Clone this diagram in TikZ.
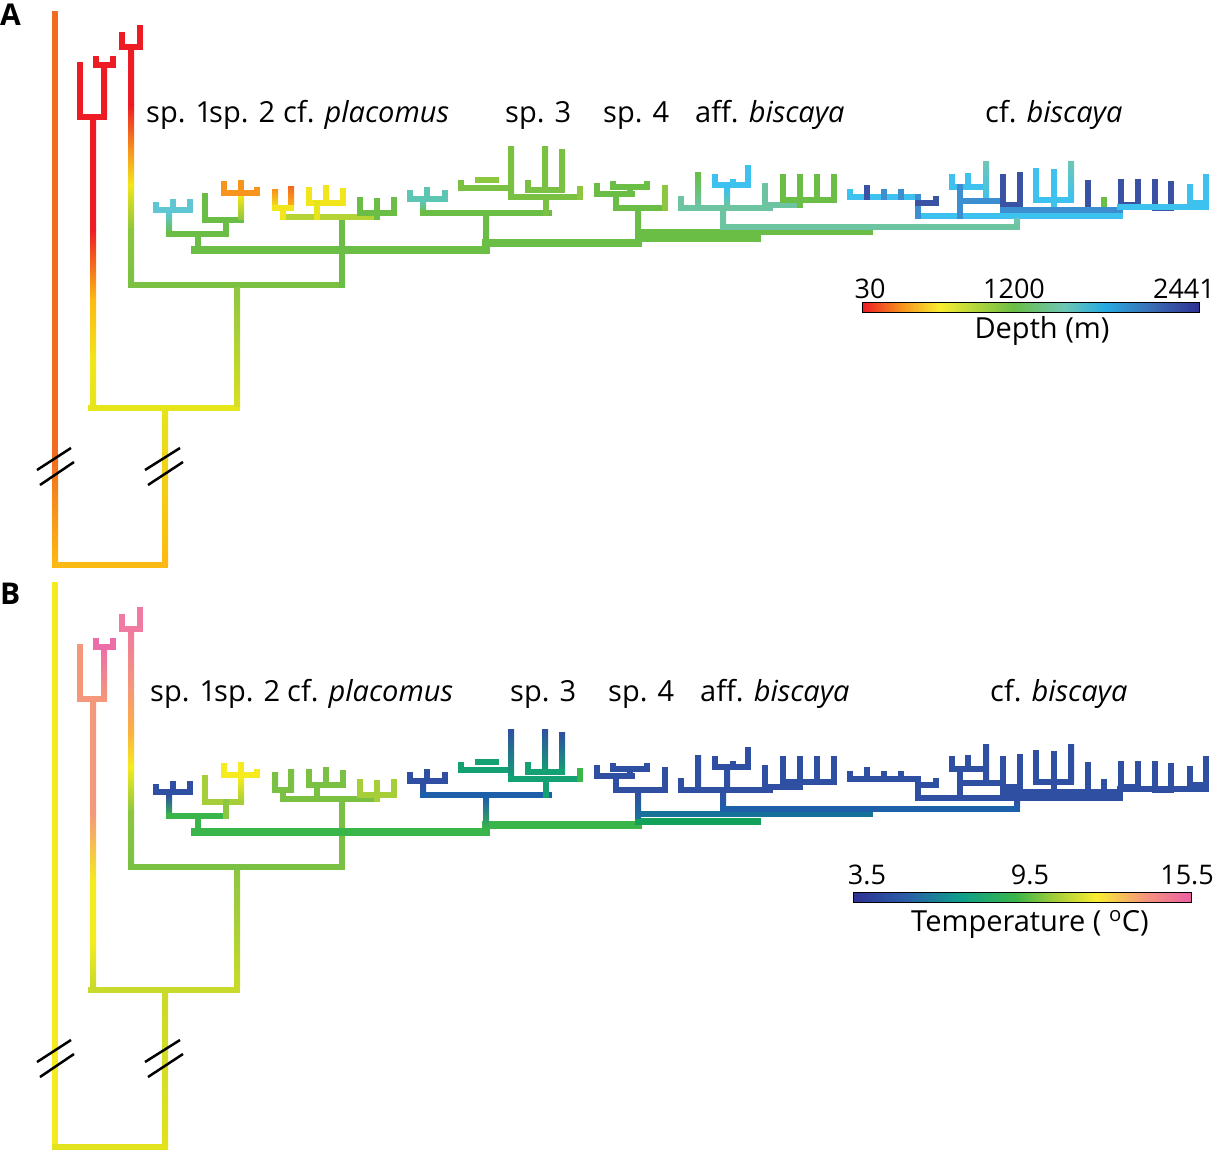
\documentclass[tikz,border=0pt]{standalone}
\usepackage{fontspec}
\setmainfont{Open Sans}
\definecolor{Ared}{HTML}{ED1C24}
\definecolor{Aor}{HTML}{F26B21}
\definecolor{Aorg}{HTML}{F7941D}
\definecolor{Ayo}{HTML}{FDB913}
\definecolor{Ayel}{HTML}{F2E51B}
\definecolor{Ayel2}{HTML}{E6E51A}
\definecolor{Ayg}{HTML}{D7DF23}
\definecolor{Ayg2}{HTML}{B5D334}
\definecolor{Alg}{HTML}{8DC63F}
\definecolor{Agr}{HTML}{6ABD45}
\definecolor{Agr2}{HTML}{7AC143}
\definecolor{Ateal}{HTML}{6CC4A0}
\definecolor{Ateal2}{HTML}{5DC5B3}
\definecolor{Ateal3}{HTML}{6DC6B5}
\definecolor{Acyan}{HTML}{5FC6D3}
\definecolor{Asky}{HTML}{3DC1EE}
\definecolor{Ablue}{HTML}{3B8FD0}
\definecolor{Adb}{HTML}{3A52A3}
\definecolor{Byel}{HTML}{F5EB1F}
\definecolor{Byel2}{HTML}{E2E21D}
\definecolor{Bsal}{HTML}{F4977A}
\definecolor{Bpink}{HTML}{EC6EA8}
\definecolor{Bpink2}{HTML}{F07AA0}
\definecolor{Borg}{HTML}{FBB040}
\definecolor{Bdb}{HTML}{2F4FA2}
\definecolor{Bblue}{HTML}{1E5FAA}
\definecolor{Btb}{HTML}{17729A}
\definecolor{Bteal}{HTML}{12A15A}
\definecolor{Bteal2}{HTML}{13A073}
\definecolor{Bgr}{HTML}{3AB54A}
\definecolor{Blg}{HTML}{7AC143}
\definecolor{Byg}{HTML}{A6CE39}
\definecolor{Bygl}{HTML}{C8DA2B}
\definecolor{Cdb}{HTML}{2E3192}
\definecolor{Cbl}{HTML}{3B6CB4}
\definecolor{Cyl}{HTML}{F9ED32}
\definecolor{Ccy}{HTML}{27AAE1}
\definecolor{Cbl2}{HTML}{2B5BA8}
\definecolor{Ctl}{HTML}{0E9F8A}
\definecolor{Cpk}{HTML}{EC5FA2}
\pgfdeclarehorizontalshading{depthbar}{100bp}{color(0bp)=(Ared); color(25bp)=(Ared); color(31bp)=(Aorg); color(36.5bp)=(Cyl); color(47.5bp)=(Agr); color(55bp)=(Ateal3); color(61bp)=(Ccy); color(68bp)=(Cbl); color(75bp)=(Cdb); color(100bp)=(Cdb)}
\pgfdeclarehorizontalshading{tempbar}{100bp}{color(0bp)=(Cdb); color(25bp)=(Cdb); color(32.5bp)=(Cbl2); color(41bp)=(Ctl); color(49bp)=(Bgr); color(55bp)=(Byg); color(61bp)=(Cyl); color(68bp)=(Bsal); color(75bp)=(Cpk); color(100bp)=(Cpk)}
\newif\ifB
\newcommand\br[4][]{\ifB\def\cc{#4}\else\def\cc{#3}\fi\draw[br,color=\cc,#1]#2;}
\newcommand\vg[7]{\ifB\def\ct{#6}\def\cb{#7}\else\def\ct{#4}\def\cb{#5}\fi\shade[top color=\ct,bottom color=\cb] (#1-3,#2) rectangle (#1+3,#3);}
\newcommand\PhyloTree{%
 % root part
 \br{(55,565)--(165,565)}{Ayo}{Byel2}
 \vg{165}{408}{565}{Ayel2}{Ayo}{Bygl}{Byel2}
 \br{(91,408)--(237,408)}{Ayel2}{Bygl}
 \vg{93}{117}{230}{Ared}{Ared}{Bsal}{Bsal}
 \vg{93}{230}{300}{Ared}{Ayo}{Bsal}{Byel}
 \vg{93}{300}{360}{Ayo}{Ayel}{Byel}{Byel}
 \vg{93}{360}{406}{Ayel}{Ayel2}{Byel}{Bygl}
 \br{(80,65)--(80,117)--(104,117)}{Ared}{Bsal}
 \vg{104}{65}{117}{Ared}{Ared}{Bpink}{Bsal}
 \br{(96,59)--(96,65)--(113,65)--(113,59)}{Ared}{Bpink}
 \br{(122,35)--(122,47)--(140,47)--(140,28)}{Ared}{Bpink2}
 \vg{131}{47}{105}{Ared}{Ared}{Bpink2}{Bsal}
 \vg{131}{105}{150}{Ared}{Aorg}{Bsal}{Borg}
 \vg{131}{150}{185}{Aorg}{Ayel}{Borg}{Byel}
 \vg{131}{185}{230}{Ayel}{Alg}{Byel}{Alg}
 \vg{131}{230}{283}{Alg}{Agr2}{Alg}{Blg}
 \br{(131,285)--(342,285)}{Agr2}{Blg}
 \vg{237}{288}{406}{Alg}{Ayg}{Alg}{Bygl}
 \br{(342,217)--(342,285)}{Agr}{Blg}
 % backbone
 \br[line width=8pt]{(195,250)--(486,250)}{Agr}{Bgr}
 \br[line width=8pt]{(486,243)--(638,243)}{Agr}{Bgr}
 \br{(638,232)--(870,232)--(870,227)}{Agr}{Btb}
 \br[line width=7pt]{(638,239)--(757,239)}{Agr}{Bteal}
 \br{(723,227)--(1017,227)}{Ateal}{Bblue}
 % sp. 1
 \br{(156,205)--(156,210)--(190,210)--(190,202)}{Acyan}{Bdb}
 \br{(173,202)--(173,210)}{Acyan}{Bdb}
 \vg{169}{213}{234}{Acyan}{Agr}{Bdb}{Bgr}
 \br{(169,234)--(226,234)}{Agr}{Bgr}
 \br{(198,234)--(198,250)}{Agr}{Bgr}
 % sp. 2
 \br{(205,196)--(205,220)--(241,220)}{Agr}{Byg}
 \br{(226,220)--(226,234)}{Agr}{Alg}
 \vg{241}{196}{220}{Ayel}{Alg}{Byel}{Byg}
 \br{(224,184)--(224,193)--(257,193)--(257,190)}{Aorg}{Byel}
 \br{(241,183)--(241,193)}{Aorg}{Byel}
 % cf. placomus
 \br{(283,217)--(377,217)}{Ayg2}{Blg}
 \br{(283,208)--(283,217)}{Ayel}{Blg}
 \vg{275}{190}{208}{Aorg}{Ayel}{Blg}{Blg}
 \vg{291}{187}{208}{Aor}{Ayo}{Blg}{Blg}
 \br{(275,208)--(291,208)}{Ayel}{Blg}
 \br{(309,190)--(309,203)--(343,203)--(343,191)}{Ayel}{Blg}
 \br{(326,188)--(326,203)}{Ayel}{Blg}
 \br{(317,203)--(317,217)}{Ayel2}{Blg}
 \br{(360,200)--(360,213)--(394,213)--(394,200)}{Agr}{Byg}
 \br{(377,201)--(377,217)}{Agr}{Byg}
 % teal subtree
 \br{(410,193)--(410,199)--(445,199)--(445,193)}{Ateal2}{Bdb}
 \br{(427,190)--(427,199)}{Ateal2}{Bdb}
 \vg{423}{202}{213}{Ateal2}{Agr}{Bdb}{Bblue}
 \br{(423,213)--(549,213)}{Agr}{Bblue}
 \vg{486}{216}{247}{Agr}{Agr}{Bblue}{Bgr}
 % sp. 3
 \br{(461,183)--(461,188)--(511,188)}{Agr2}{Bteal2}
 \br{(478,180)--(496,180)}{Alg}{Bteal2}
 \vg{511}{147}{197}{Agr2}{Agr2}{Bdb}{Bteal2}
 \vg{545}{147}{190}{Agr2}{Agr2}{Bdb}{Bteal2}
 \vg{562}{150}{190}{Agr2}{Agr2}{Bdb}{Bteal2}
 \br{(528,183)--(528,190)--(562,190)}{Agr2}{Bteal2}
 \br{(511,197)--(580,197)}{Agr2}{Bteal2}
 \br{(580,189)--(580,197)}{Alg}{Bgr}
 \br{(546,197)--(546,213)}{Agr2}{Bteal2}
 % sp. 4
 \br{(616,208)--(665,208)}{Agr}{Bdb}
 \br{(665,188)--(665,208)}{Alg}{Bdb}
 \br{(616,208)--(616,194)}{Agr}{Bdb}
 \br{(597,186)--(597,194)--(632,194)}{Agr}{Bdb}
 \br{(630,194)--(630,187)}{Agr}{Bdb}
 \br{(613,184)--(613,187)--(647,187)--(647,184)}{Agr}{Bdb}
 \vg{638}{211}{236}{Agr}{Agr}{Bdb}{Btb}
 % aff. biscaya
 \br{(681,208)--(770,208)}{Ateal}{Bdb}
 \br{(681,199)--(681,208)}{Ateal}{Bdb}
 \vg{698}{173}{205}{Agr}{Ateal}{Bdb}{Bdb}
 \br{(715,177)--(715,185)--(748,185)--(748,168)}{Asky}{Bdb}
 \br{(733,182)--(733,185)}{Asky}{Bdb}
 \vg{727}{188}{206}{Asky}{Ateal}{Bdb}{Bdb}
 \vg{723}{211}{225}{Ateal}{Ateal}{Bdb}{Bblue}
 \br{(765,186)--(765,205)--(800,205)}{Ateal}{Bdb}
 \br{(770,205)--(770,208)}{Ateal}{Bdb}
 \br{(783,177)--(783,200)--(834,200)--(834,177)}{Agr}{Bdb}
 \br{(800,177)--(800,205)}{Agr}{Bdb}
 \br{(817,177)--(817,200)}{Agr}{Bdb}
 % cf. biscaya
 \br{(918,216)--(1120,216)}{Asky}{Bdb}
 \vg{1017}{219}{225}{Ateal3}{Ateal}{Bdb}{Bblue}
 \br{(850,192)--(850,197)--(918,197)}{Asky}{Bdb}
 \br{(867,188)--(867,197)}{Adb}{Bdb}
 \br{(884,192)--(884,197)}{Ablue}{Bdb}
 \br{(901,192)--(901,197)}{Ablue}{Bdb}
 \br{(918,197)--(918,216)}{Ablue}{Bdb}
 \br{(918,203)--(936,203)--(936,199)}{Adb}{Bdb}
 \br{(952,177)--(952,187)--(985,187)}{Asky}{Bdb}
 \br{(968,176)--(968,187)}{Asky}{Bdb}
 \vg{986}{162}{201}{Ateal3}{Asky}{Bdb}{Bdb}
 \br{(960,187)--(960,201)--(1003,201)}{Ablue}{Bdb}
 \br{(960,201)--(960,216)}{Ablue}{Bdb}
 \br{(1003,177)--(1003,208)}{Adb}{Bdb}
 \br{(1020,175)--(1020,205)--(1003,205)}{Adb}{Bdb}
 \br{(1036,171)--(1036,200)--(1071,200)}{Asky}{Bdb}
 \br{(1054,172)--(1054,210)}{Asky}{Bdb}
 \vg{1071}{162}{200}{Ateal3}{Asky}{Bdb}{Bdb}
 \br{(1088,183)--(1088,208)}{Adb}{Bdb}
 \br{(1104,200)--(1104,208)}{Agr}{Bdb}
 \br{(1121,182)--(1121,205)--(1138,205)--(1138,182)}{Adb}{Bdb}
 \br{(1155,182)--(1155,208)--(1171,208)--(1171,184)}{Adb}{Bdb}
 \br{(1190,187)--(1190,203)--(1206,203)--(1206,177)}{Asky}{Bdb}
 \br{(1198,203)--(1198,207)}{Asky}{Bdb}
 \br{(1003,210)--(1120,210)}{Ablue}{Bdb}
 \br{(1120,207)--(1206,207)}{Asky}{Bdb}
}
\begin{document}
\begin{tikzpicture}[x=1pt,y=-1pt,
  br/.style={line width=6pt,line cap=rect,line join=miter},
  brk/.style={line width=2.5pt,black},
  lab/.style={font=\fontsize{29}{32}\selectfont,inner sep=0pt,text=black},
  num/.style={font=\fontsize{27}{30}\selectfont,inner sep=0pt,text=black},
  pan/.style={font=\bfseries\fontsize{30}{32}\selectfont,inner sep=0pt}]
\useasboundingbox (0,0) rectangle (1217,1155);
% ---------- panel A ----------
\node[pan,anchor=base west] (pA) at (0,26) {A};
\draw[br,color=Aor] (55,14)--(55,455);
\shade[top color=Aor,bottom color=Ayo] (52,455) rectangle (58,565);
\Bfalse
\PhyloTree
\draw[brk] (37,470)--(71,448);
\draw[brk] (40,485)--(74,462);
\draw[brk] (145,470)--(180,448);
\draw[brk] (148,485)--(183,462);
\node[lab,anchor=base west] (a1) at (146,123) {sp. 1};
\node[lab,anchor=base west] (a2) at (209,123) {sp. 2};
\node[lab,anchor=base west] (a3) at (283,123) {cf. \textit{placomus}};
\node[lab,anchor=base west] (a4) at (505,123) {sp. 3};
\node[lab,anchor=base west] (a5) at (603,123) {sp. 4};
\node[lab,anchor=base west] (a6) at (695,123) {aff. \textit{biscaya}};
\node[lab,anchor=base west] (a7) at (985,123) {cf. \textit{biscaya}};
\shadedraw[shading=depthbar,draw=black,line width=1pt] (862,303) rectangle (1199,313);
\node[num,anchor=base] (d1) at (870,299) {30};
\node[num,anchor=base] (d2) at (1014,299) {1200};
\node[num,anchor=base east] (d3) at (1215,299) {2441};
\node[lab,anchor=base] (d4) at (1042,338) {Depth (m)};
% ---------- panel B ----------
\node[pan,anchor=base west] (pB) at (0,604) {B};
\draw[br,color=Byel] (55,585)--(55,1147);
\begin{scope}[yshift=-582pt]
\Btrue
\PhyloTree
\end{scope}
\draw[brk] (37,1062)--(71,1040);
\draw[brk] (40,1077)--(74,1054);
\draw[brk] (145,1062)--(180,1040);
\draw[brk] (148,1077)--(183,1054);
\node[lab,anchor=base west] (b1) at (150,701) {sp. 1};
\node[lab,anchor=base west] (b2) at (214,701) {sp. 2};
\node[lab,anchor=base west] (b3) at (287,701) {cf. \textit{placomus}};
\node[lab,anchor=base west] (b4) at (510,701) {sp. 3};
\node[lab,anchor=base west] (b5) at (608,701) {sp. 4};
\node[lab,anchor=base west] (b6) at (700,701) {aff. \textit{biscaya}};
\node[lab,anchor=base west] (b7) at (990,701) {cf. \textit{biscaya}};
\shadedraw[shading=tempbar,draw=black,line width=1pt] (853,892) rectangle (1191,902);
\node[num,anchor=base] (t1) at (867,884) {3.5};
\node[num,anchor=base] (t2) at (1030,884) {9.5};
\node[num,anchor=base east] (t3) at (1214,884) {15.5};
\node[lab,anchor=base] (t4) at (1030,931) {Temperature ( \textsuperscript{o}C)};
\end{tikzpicture}
\end{document}
